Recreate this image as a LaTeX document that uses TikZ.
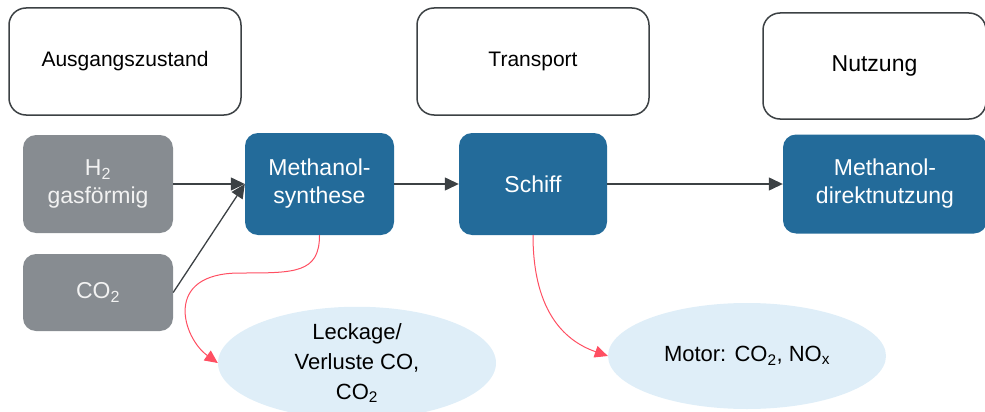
\documentclass[tikz,border=0pt]{standalone}
\usepackage{fontspec}
\setmainfont{Liberation Sans}
\usetikzlibrary{arrows.meta,shapes.geometric}
\definecolor{boxblue}{HTML}{236B9A}
\definecolor{boxgray}{HTML}{878C91}
\definecolor{ellfill}{HTML}{DFEEF8}
\definecolor{redline}{HTML}{FF4F62}
\definecolor{darkline}{HTML}{3C4144}
\definecolor{lighttext}{HTML}{F2F2F2}
\begin{document}
\begin{tikzpicture}[x=1pt,y=-1pt,
  header/.style={draw=darkline, line width=1.5pt, rounded corners=17pt, fill=white,
    inner sep=0pt, font=\fontsize{21}{26}\selectfont, text=black},
  graybox/.style={fill=boxgray, rounded corners=13pt, inner sep=0pt, align=center,
    text=lighttext, font=\fontsize{23}{28}\selectfont},
  bluebox/.style={fill=boxblue, rounded corners=13pt, inner sep=0pt, align=center,
    text=white, font=\fontsize{23}{28}\selectfont},
  ell/.style={ellipse, fill=ellfill, inner sep=0pt, align=center, text=black,
    minimum width=278pt, minimum height=106pt, font=\fontsize{22}{30}\selectfont},
  flow/.style={draw=darkline, line width=1.3pt, -{Triangle[length=14pt,width=13pt]}},
  redflow/.style={draw=redline, line width=1pt, -{Triangle[length=13pt,width=12pt]}}
]
\useasboundingbox (0,0) rectangle (985,412);

% header boxes
\node[header, minimum width=232pt, minimum height=107pt] (hA) at (125,61.5) {Ausgangszustand};
\node[header, minimum width=232pt, minimum height=107pt] (hT) at (533,61.5) {Transport};
\node[header, minimum width=223pt, minimum height=106pt, font=\fontsize{23}{28}\selectfont] (hN) at (874.5,66) {Nutzung};

% gray boxes
\node[graybox, minimum width=150pt, minimum height=98pt] (h2) at (98,184) {H\textsubscript{2}\\gasförmig};
\node[graybox, minimum width=150pt, minimum height=77pt] (co2) at (98,292.5) {CO\textsubscript{2}};

% blue boxes
\node[bluebox, minimum width=149pt, minimum height=102pt] (meth) at (319.5,184) {Methanol-\\synthese};
\node[bluebox, minimum width=148pt, minimum height=102pt] (schiff) at (533,184) {Schiff};
\node[bluebox, minimum width=204pt, minimum height=99pt] (direkt) at (885,184) {Methanol-\\direktnutzung};

% ellipses
\node[ell] (leck) at (357,363) {Leckage/\\Verluste CO,\\CO\textsubscript{2}};
\node[ell] (motor) at (747,356) {Motor: CO\textsubscript{2}, NO\textsubscript{x}};

% flow arrows
\draw[flow] (h2.east) -- (meth.west);
\draw[flow] (co2.east) -- (meth.west);
\draw[flow] (meth.east) -- (schiff.west);
\draw[flow] (schiff.east) -- (direkt.west);

% red arrows
\coordinate (r1) at (240,273);
\draw[redflow] (meth.south) .. controls +(0,38) and +(55,0) .. (r1)
  .. controls +(-78,0) and +(-35,-25) .. (leck.west);
\draw[redflow] (schiff.south) .. controls +(0,80) and +(-40,-14) .. (motor.west);
\end{tikzpicture}
\end{document}
